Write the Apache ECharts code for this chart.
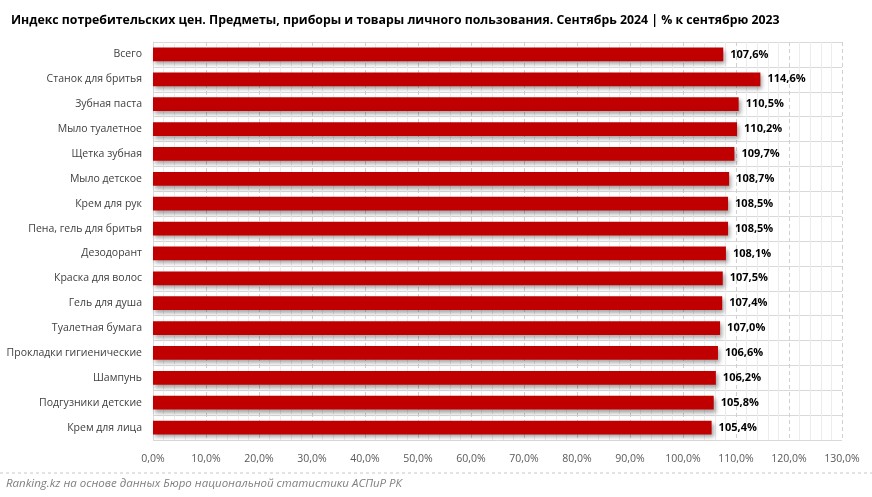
<!DOCTYPE html>
<html><head><meta charset="utf-8">
<script src="https://cdn.jsdelivr.net/npm/echarts@6/dist/echarts.min.js"></script>
<style>html,body{margin:0;padding:0;background:#fff}#c{width:872px;height:497px}</style>
</head><body><div id="c"></div>
<script>
const categories = ["Всего","Станок для бритья","Зубная паста","Мыло туалетное","Щетка зубная","Мыло детское","Крем для рук","Пена, гель для бритья","Дезодорант","Краска для волос","Гель для душа","Туалетная бумага","Прокладки гигиенические","Шампунь","Подгузники детские","Крем для лица"];
const values = [107.6,114.6,110.5,110.2,109.7,108.7,108.5,108.5,108.1,107.5,107.4,107.0,106.6,106.2,105.8,105.4];
const titleBold = "Индекс потребительских цен. Предметы, приборы и товары личного пользования. Сентябрь 2024";
const titleRest = " | % к сентябрю 2023";
const footer = "Ranking.kz на основе данных Бюро национальной статистики АСПиР РК";

const fmt = v => v.toFixed(1).replace('.', ',') + '%';
const chart = echarts.init(document.getElementById('c'));
chart.setOption({
  animation: false,
  textStyle: {fontFamily: 'Open Sans'},
  title: {
    text: '{b|' + titleBold + '}{n|' + titleRest + '}',
    left: 6, top: 9,
    textStyle: {rich: {
      b: {fontWeight: 'bold', fontSize: 12.3, color: '#000', fontFamily: 'Open Sans'},
      n: {fontSize: 12.3, color: '#000', fontFamily: 'Open Sans'}
    }}
  },
  graphic: [
    {type: 'line', shape: {x1: 0, y1: 473, x2: 872, y2: 473}, style: {stroke: '#c8c8c8', lineDash: [3, 3], lineWidth: 1}},
    {type: 'text', left: 6, top: 478, style: {text: footer, fill: '#7f7f7f', fontSize: 11.5, fontStyle: 'italic', fontFamily: 'Open Sans'}}
  ],
  grid: {left: 153, right: 30, top: 42, bottom: 57, containLabel: false},
  xAxis: {
    type: 'value', min: 0, max: 130, interval: 10,
    axisLabel: {formatter: fmt, color: '#595959', fontSize: 10.5, margin: 14},
    axisLine: {show: false}, axisTick: {show: false},
    splitLine: {show: true, lineStyle: {color: '#d0d0d0', type: [4, 3]}},
    minorTick: {show: false, splitNumber: 5},
    minorSplitLine: {show: true, lineStyle: {color: '#ececec'}}
  },
  yAxis: {
    type: 'category', data: categories, inverse: true,
    axisLabel: {color: '#404040', fontSize: 10.5, margin: 11},
    axisLine: {show: true, lineStyle: {color: '#d9d9d9'}},
    axisTick: {show: false},
    splitLine: {show: true, lineStyle: {color: '#d9d9d9'}}
  },
  series: [{
    type: 'bar', data: values, barWidth: '55%',
    itemStyle: {color: '#c00000', shadowColor: 'rgba(0,0,0,0.35)', shadowBlur: 4, shadowOffsetX: 2, shadowOffsetY: 3},
    label: {show: true, position: 'right', formatter: p => fmt(p.value), color: '#000', fontWeight: 'bold', fontSize: 11, distance: 7}
  }]
});
</script></body></html>
